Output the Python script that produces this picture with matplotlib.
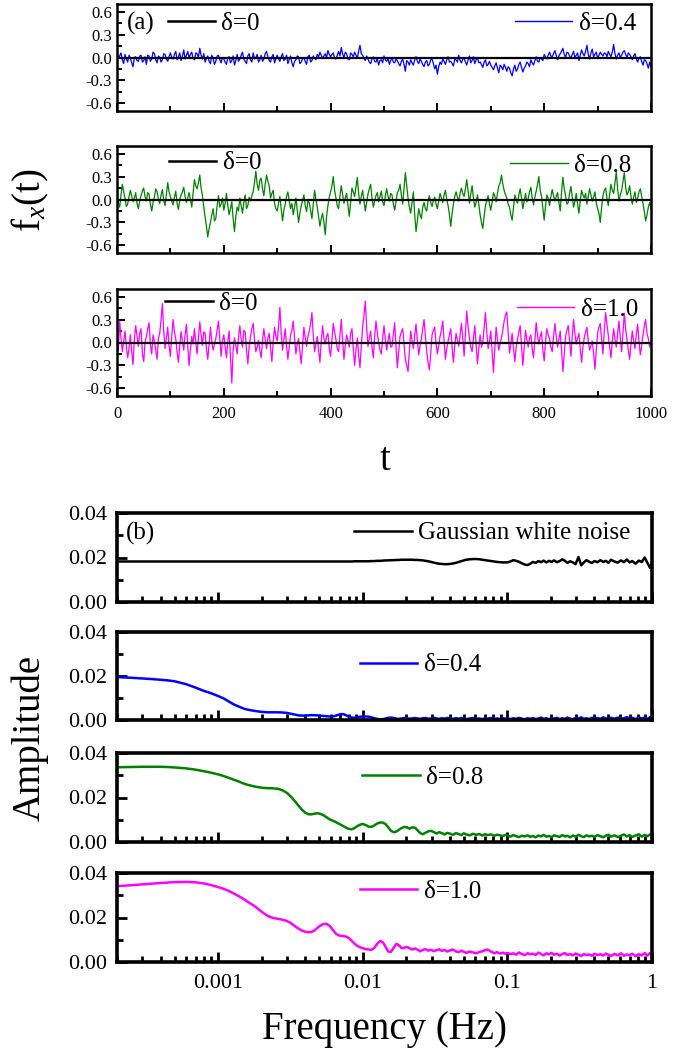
import numpy as np
import matplotlib
matplotlib.use('Agg')
import matplotlib.pyplot as plt
from matplotlib.ticker import MultipleLocator, FixedLocator, FixedFormatter, LogLocator, NullFormatter, FormatStrFormatter
from matplotlib.lines import Line2D
from matplotlib.legend import Legend

plt.rcParams['font.family'] = ['Liberation Serif', 'DejaVu Serif']
plt.rcParams['mathtext.fontset'] = 'custom'
plt.rcParams['mathtext.rm'] = 'Liberation Serif'
plt.rcParams['mathtext.it'] = 'Liberation Serif:italic'
plt.rcParams['axes.unicode_minus'] = False

# ---------------- data: panel (a) time series (sampled every 2.5 time units) ----------------
t_step = 2.5
fx_d04 = [0.10, -0.01, 0.02, 0.06, -0.03, -0.08, 0.04, -0.02, -0.06, 0.03, -0.01, -0.07, -0.12, 0.00, 0.01, -0.04, -0.05, 0.02, 0.03, -0.06, -0.04, 0.01, -0.09, 0.03, 0.02, -0.05, -0.02, 0.07, 0.05, -0.03, -0.07, 0.02, 0.00, -0.06, -0.03, 0.05, 0.04, -0.02, -0.05, 0.01,
          0.06, 0.00, -0.02, 0.04, 0.08, -0.03, 0.01, 0.06, -0.04, 0.02, 0.10, -0.02, 0.03, 0.08, -0.01, 0.04, 0.07, -0.01, -0.03, 0.06, 0.05, 0.00, 0.12, 0.03, -0.02, 0.05, -0.06, -0.01, 0.02, -0.05, -0.08, 0.03, -0.01, -0.09, -0.05, 0.02, 0.03, -0.03, -0.07, 0.00,
          -0.02, -0.06, -0.09, 0.00, 0.01, -0.07, -0.04, 0.02, -0.10, -0.04, 0.04, -0.05, -0.02, 0.03, 0.07, -0.02, -0.05, -0.08, 0.02, 0.05, -0.03, -0.06, 0.06, -0.02, 0.00, 0.04, -0.06, -0.03, 0.03, -0.05, -0.02, 0.05, 0.08, 0.01, -0.04, -0.06, 0.01, 0.04, -0.07, -0.02,
          0.03, -0.02, -0.05, 0.01, 0.05, -0.04, -0.02, 0.03, -0.08, -0.03, 0.02, -0.07, -0.12, -0.05, -0.03, 0.02, 0.01, -0.08, -0.06, -0.02, 0.00, -0.05, -0.09, 0.01, 0.03, -0.06, -0.04, 0.02, -0.01, -0.03, 0.04, 0.01, 0.07, 0.03, -0.01, 0.02, 0.05, 0.00, 0.09, 0.04,
          0.01, 0.04, 0.06, -0.01, -0.02, 0.03, 0.08, 0.02, 0.13, 0.05, 0.00, 0.07, 0.05, -0.02, -0.03, 0.06, 0.04, 0.01, 0.07, 0.03, -0.01, 0.08, 0.16, 0.05, 0.03, -0.01, -0.04, 0.02, -0.02, -0.06, -0.08, -0.02, 0.01, -0.05, -0.06, -0.01, -0.10, -0.04, -0.03, -0.07,
          0.02, -0.03, -0.05, -0.01, -0.09, -0.04, 0.00, -0.06, -0.07, -0.02, -0.04, -0.08, -0.11, -0.05, -0.02, -0.09, -0.18, -0.04, -0.06, -0.10, -0.03, -0.07, -0.10, -0.03, 0.01, -0.05, -0.08, -0.02, -0.05, -0.09, -0.12, -0.06, -0.04, -0.11, -0.09, -0.03, -0.02, -0.08, -0.15, -0.10,
          -0.22, -0.12, -0.06, -0.09, -0.02, -0.05, -0.09, -0.03, 0.01, -0.06, -0.05, -0.08, -0.11, -0.02, -0.03, -0.06, 0.03, -0.04, -0.07, -0.02, -0.01, -0.06, -0.10, -0.03, 0.02, -0.07, -0.04, 0.01, -0.08, -0.03, 0.00, -0.07, -0.06, -0.09, -0.13, -0.06, -0.03, -0.11, -0.09, -0.05,
          -0.10, -0.13, -0.16, -0.11, -0.07, -0.14, -0.20, -0.10, -0.12, -0.16, -0.09, -0.13, -0.18, -0.12, -0.14, -0.20, -0.24, -0.15, -0.10, -0.18, -0.15, -0.09, -0.06, -0.13, -0.19, -0.14, -0.11, -0.06, -0.08, -0.12, -0.03, -0.07, -0.10, -0.04, 0.01, -0.05, -0.06, 0.00, -0.02, -0.04,
          0.04, 0.01, -0.02, 0.03, 0.07, 0.02, 0.01, 0.05, 0.09, 0.03, -0.03, 0.02, 0.05, 0.08, 0.12, 0.04, 0.00, 0.07, 0.06, 0.02, -0.01, 0.04, 0.08, 0.00, 0.03, 0.06, -0.04, 0.03, 0.10, 0.05, 0.02, 0.08, 0.16, 0.04, -0.02, 0.06, 0.11, 0.01, 0.04, 0.07,
          -0.01, 0.03, 0.07, 0.04, 0.02, 0.06, 0.05, 0.01, 0.08, 0.04, 0.01, 0.07, 0.17, 0.05, -0.02, 0.03, 0.06, 0.00, 0.03, 0.07, 0.09, 0.04, 0.00, 0.06, 0.04, 0.01, -0.03, 0.02, 0.05, -0.02, -0.06, -0.01, 0.01, -0.05, -0.10, -0.03, -0.04, -0.08, -0.14, -0.06,
          -0.12]
fx_d08 = [0.08, -0.04, -0.10, 0.06, 0.20, 0.10, 0.02, -0.09, -0.06, 0.04, 0.12, 0.05, -0.03, 0.02, 0.09, -0.05, -0.12, -0.02, 0.05, 0.11, 0.15, 0.04, -0.02, 0.09, 0.07, -0.06, -0.15, -0.04, 0.03, 0.14, 0.10, 0.01, -0.05, 0.06, 0.13, -0.01, -0.08, 0.07, 0.22, 0.10,
          0.04, -0.02, -0.07, 0.03, 0.11, -0.05, -0.13, -0.01, 0.06, 0.10, 0.16, 0.04, -0.04, 0.02, 0.09, 0.00, -0.10, 0.08, 0.26, 0.18, 0.14, 0.22, 0.32, 0.15, 0.05, -0.10, -0.22, -0.35, -0.49, -0.38, -0.30, -0.20, -0.12, -0.28, -0.25, -0.08, 0.05, -0.10, -0.06, 0.02,
          -0.14, -0.05, 0.08, -0.08, -0.20, -0.12, -0.03, -0.25, -0.42, -0.22, -0.10, -0.15, 0.02, -0.08, -0.18, -0.04, 0.06, -0.12, -0.08, 0.03, -0.02, 0.05, 0.10, 0.22, 0.37, 0.20, 0.12, 0.25, 0.28, 0.14, 0.05, 0.20, 0.32, 0.24, 0.18, 0.02, 0.08, 0.12, -0.05, -0.12,
          -0.15, -0.05, 0.04, -0.12, -0.28, -0.14, -0.06, 0.04, 0.10, -0.02, -0.12, -0.05, -0.20, -0.10, 0.02, -0.14, -0.30, -0.18, -0.08, -0.02, 0.06, -0.08, -0.16, -0.02, -0.04, -0.14, -0.25, -0.06, 0.12, 0.00, -0.10, -0.22, -0.35, -0.25, -0.18, -0.30, -0.46, -0.22, -0.08, 0.03,
          0.10, 0.18, 0.30, 0.12, 0.02, -0.08, -0.12, 0.05, 0.18, 0.06, -0.05, 0.02, 0.08, -0.08, -0.22, -0.04, 0.15, 0.10, 0.04, 0.16, 0.29, 0.08, -0.06, 0.04, 0.12, -0.02, -0.15, -0.04, 0.07, 0.14, 0.20, 0.02, -0.10, -0.02, 0.05, 0.09, -0.03, 0.04, 0.11, -0.03,
          -0.08, 0.05, 0.14, 0.04, -0.02, 0.08, 0.06, -0.06, -0.14, -0.02, 0.09, 0.12, 0.20, 0.06, -0.06, 0.15, 0.35, 0.18, 0.02, -0.10, -0.18, -0.04, 0.10, -0.20, -0.42, -0.28, -0.12, -0.20, -0.25, -0.10, -0.04, -0.12, -0.15, -0.02, 0.05, -0.04, -0.09, -0.02, 0.03, -0.06,
          -0.12, -0.02, 0.08, 0.02, -0.04, 0.06, 0.12, 0.00, -0.08, -0.20, -0.35, -0.18, -0.06, 0.04, 0.10, 0.03, -0.02, 0.08, 0.15, 0.08, 0.04, 0.14, 0.26, 0.10, -0.05, 0.08, 0.18, 0.02, -0.10, -0.04, 0.06, -0.06, -0.20, -0.30, -0.38, -0.22, -0.08, -0.02, 0.05, -0.06,
          -0.14, -0.03, 0.09, 0.04, -0.03, 0.08, 0.18, 0.22, 0.32, 0.20, 0.12, 0.06, 0.02, -0.06, -0.10, -0.20, -0.27, -0.10, 0.06, 0.00, -0.05, 0.06, 0.14, 0.02, -0.12, -0.02, 0.08, -0.03, 0.01, 0.10, 0.16, 0.02, -0.07, 0.03, 0.11, 0.20, 0.30, 0.12, 0.04, -0.12,
          -0.27, -0.08, 0.06, 0.02, -0.08, 0.04, 0.13, 0.05, -0.02, 0.04, 0.09, -0.04, -0.15, 0.10, 0.29, 0.14, 0.05, -0.06, -0.04, 0.08, 0.17, 0.04, -0.10, -0.02, 0.08, -0.06, -0.18, -0.02, 0.12, 0.06, 0.02, 0.08, -0.06, 0.04, 0.14, 0.06, -0.02, 0.03, 0.10, -0.04,
          -0.12, -0.18, -0.30, -0.10, 0.05, 0.12, 0.15, 0.02, -0.08, 0.06, 0.20, 0.12, 0.08, 0.22, 0.36, 0.14, -0.02, 0.06, 0.12, 0.24, 0.35, 0.16, 0.06, 0.10, 0.18, 0.04, -0.06, 0.03, 0.10, -0.04, 0.02, 0.10, 0.14, 0.04, -0.05, -0.16, -0.28, -0.20, -0.10, -0.04,
          -0.12]
fx_d10 = [0.05, -0.10, 0.28, 0.06, -0.12, 0.02, 0.15, -0.05, -0.20, -0.08, 0.10, -0.12, -0.29, 0.04, 0.22, 0.08, -0.05, 0.12, 0.18, -0.14, -0.25, 0.00, 0.08, 0.18, 0.26, -0.02, -0.15, 0.10, 0.02, -0.10, -0.22, 0.05, 0.12, 0.30, 0.51, 0.15, -0.08, 0.06, 0.20, -0.04,
          -0.18, 0.08, 0.30, 0.14, 0.05, -0.12, -0.26, -0.04, 0.14, 0.02, -0.10, 0.10, 0.24, -0.05, -0.30, -0.10, 0.08, -0.02, 0.18, 0.02, -0.15, 0.06, 0.27, 0.10, -0.04, 0.14, 0.12, -0.08, -0.22, -0.02, 0.20, 0.00, -0.10, -0.02, 0.05, 0.16, 0.28, 0.04, -0.18, 0.02,
          0.10, -0.06, -0.20, 0.02, 0.15, -0.18, -0.53, -0.10, 0.06, -0.04, -0.15, 0.06, 0.22, 0.05, -0.06, 0.16, 0.14, -0.10, -0.28, -0.05, 0.08, 0.18, 0.25, 0.04, -0.12, -0.06, 0.03, -0.10, -0.20, 0.02, 0.18, 0.04, -0.08, 0.06, 0.12, -0.06, -0.25, 0.00, 0.20, 0.08,
          0.02, 0.20, 0.46, 0.12, -0.10, 0.04, 0.18, -0.04, -0.22, -0.06, 0.10, 0.16, 0.28, 0.06, -0.15, -0.02, 0.05, -0.12, -0.28, -0.04, 0.20, 0.06, -0.05, 0.08, 0.15, 0.24, 0.39, 0.10, -0.12, -0.02, 0.08, -0.10, -0.26, 0.02, 0.22, 0.06, -0.02, 0.08, 0.12, -0.08,
          -0.18, 0.04, 0.25, 0.14, 0.04, -0.08, -0.12, 0.10, 0.30, 0.02, -0.22, -0.04, 0.10, 0.02, -0.06, 0.12, 0.18, -0.08, -0.30, -0.10, 0.06, -0.16, -0.33, -0.04, 0.20, 0.36, 0.54, 0.20, -0.05, 0.06, 0.15, -0.06, -0.20, 0.08, 0.28, 0.12, 0.00, -0.10, -0.15, 0.06,
          0.22, 0.04, -0.10, 0.02, 0.12, -0.06, -0.05, 0.10, 0.26, -0.06, -0.33, -0.12, 0.08, 0.14, 0.18, -0.02, -0.22, -0.30, -0.38, -0.12, 0.15, 0.02, -0.08, 0.10, 0.24, 0.02, -0.16, -0.04, 0.05, 0.18, 0.30, 0.08, -0.12, -0.26, -0.36, -0.14, 0.10, 0.16, 0.20, -0.02,
          -0.15, -0.04, 0.08, 0.16, 0.28, 0.04, -0.22, -0.08, 0.02, 0.10, 0.18, -0.06, -0.26, -0.04, 0.12, 0.02, -0.05, 0.10, 0.25, 0.06, -0.18, 0.12, 0.41, 0.20, 0.06, -0.06, -0.12, 0.06, 0.22, -0.04, -0.28, -0.08, 0.10, -0.06, 0.00, 0.20, 0.39, 0.14, -0.08, 0.02,
          0.15, -0.12, -0.39, -0.08, 0.20, 0.04, -0.10, -0.02, 0.06, 0.16, 0.28, 0.36, 0.40, 0.12, -0.14, -0.02, 0.12, -0.08, -0.25, -0.06, 0.04, 0.14, 0.22, -0.04, -0.30, -0.06, 0.16, 0.04, -0.06, 0.06, 0.10, -0.08, -0.20, 0.04, 0.26, 0.10, -0.02, 0.08, 0.14, -0.10,
          -0.24, 0.02, 0.18, 0.10, 0.05, -0.06, -0.12, 0.08, 0.25, 0.08, -0.06, 0.04, 0.15, -0.10, -0.38, -0.14, 0.08, 0.16, 0.22, 0.02, -0.18, 0.08, 0.30, 0.12, -0.02, 0.06, 0.12, -0.08, -0.26, -0.06, 0.06, 0.14, 0.20, 0.02, -0.10, -0.04, 0.02, -0.14, -0.35, -0.10,
          0.12, 0.20, 0.25, 0.04, -0.15, 0.14, 0.39, 0.24, 0.08, -0.06, -0.20, 0.02, 0.18, 0.04, -0.06, 0.12, 0.28, 0.06, -0.12, 0.14, 0.38, 0.18, 0.04, -0.10, -0.22, -0.02, 0.15, 0.02, -0.08, 0.10, 0.24, 0.02, -0.16, -0.04, 0.10, 0.22, 0.30, 0.12, 0.05, -0.06,
          0.02]
fx_d0_t = [0, 1000]
fx_d0 = [0.0, 0.0]
for arr in (fx_d04, fx_d08, fx_d10):
    assert len(arr) == 401, len(arr)

# ---------------- data: panel (b) amplitude spectra ----------------
freq = [0.0002, 0.00025, 0.0003, 0.00035, 0.0004, 0.00045, 0.0005, 0.0006, 0.0007, 0.0008, 0.0009,
        0.001, 0.0011, 0.0012, 0.0013, 0.0014, 0.0015, 0.0016, 0.0018, 0.002, 0.0022,
        0.0024, 0.0026, 0.0028, 0.003, 0.0032, 0.0034, 0.0036, 0.0038, 0.004, 0.0042,
        0.0044, 0.0046, 0.0048, 0.005, 0.0053, 0.0056, 0.0059, 0.0062, 0.0065, 0.0068,
        0.0071, 0.0074, 0.0077, 0.008, 0.0084, 0.0088, 0.0092, 0.0096,
        0.010, 0.0105, 0.011, 0.0115, 0.012, 0.0126, 0.0132, 0.0138, 0.0144, 0.015,
        0.0157, 0.0164, 0.0171, 0.0178, 0.0186, 0.0194, 0.0202, 0.021, 0.022, 0.023,
        0.024, 0.025, 0.026, 0.0272, 0.0284, 0.0296, 0.031, 0.0324, 0.0338, 0.0352,
        0.0368, 0.0384, 0.04, 0.042, 0.044, 0.046, 0.048, 0.05, 0.052, 0.055,
        0.058, 0.061, 0.064, 0.067, 0.07, 0.073, 0.077, 0.081, 0.085, 0.089,
        0.093, 0.097,
        0.10, 0.105, 0.11, 0.115, 0.12, 0.126, 0.132, 0.138, 0.144, 0.15,
        0.157, 0.164, 0.171, 0.178, 0.186, 0.194, 0.202, 0.21, 0.22, 0.23,
        0.24, 0.25, 0.26, 0.272, 0.284, 0.296, 0.31, 0.324, 0.338, 0.352,
        0.368, 0.384, 0.40, 0.42, 0.44, 0.46, 0.48, 0.50, 0.52, 0.55,
        0.58, 0.61, 0.64, 0.67, 0.70, 0.73, 0.77, 0.81, 0.85, 0.89,
        0.93, 0.97, 1.0]

amp_gauss = [0.0182, 0.0182, 0.0182, 0.0182, 0.0182, 0.0182, 0.0182, 0.0182, 0.0182, 0.0182, 0.0182,
             0.0182, 0.0182, 0.0182, 0.0182, 0.0182, 0.0182, 0.0182, 0.0182, 0.0182, 0.0182,
             0.0182, 0.0182, 0.0182, 0.0182, 0.0182, 0.0182, 0.0182, 0.0182, 0.0182, 0.0182,
             0.0182, 0.0182, 0.0182, 0.0182, 0.0182, 0.0182, 0.0182, 0.0182, 0.0182, 0.0182,
             0.0182, 0.0182, 0.0182, 0.0182, 0.0182, 0.0183, 0.0183, 0.0183,
             0.0183, 0.0183, 0.0183, 0.0184, 0.0184, 0.0185, 0.0185, 0.0186, 0.0187, 0.0187,
             0.0188, 0.0188, 0.0189, 0.0189, 0.0190, 0.0190, 0.0190, 0.0190, 0.0190, 0.0189,
             0.0189, 0.0188, 0.0187, 0.0185, 0.0183, 0.0180, 0.0177, 0.0174, 0.0172, 0.0171,
             0.0170, 0.0170, 0.0171, 0.0173, 0.0176, 0.0180, 0.0184, 0.0187, 0.0190, 0.0192,
             0.0193, 0.0193, 0.0192, 0.0190, 0.0188, 0.0186, 0.0184, 0.0182, 0.0180, 0.0179,
             0.0178, 0.0178,
             0.0178, 0.0182, 0.0188, 0.0185, 0.0181, 0.0174, 0.0168, 0.0166, 0.0172, 0.0180,
             0.0176, 0.0184, 0.0179, 0.0186, 0.0178, 0.0185, 0.0180, 0.0187, 0.0179, 0.0184,
             0.0192, 0.0185, 0.0176, 0.0183, 0.0178, 0.0170, 0.0202, 0.0165, 0.0178, 0.0188,
             0.0181, 0.0175, 0.0184, 0.0179, 0.0188, 0.0180, 0.0185, 0.0176, 0.0190, 0.0182,
             0.0177, 0.0187, 0.0179, 0.0191, 0.0178, 0.0184, 0.0172, 0.0186, 0.0180, 0.0200,
             0.0176, 0.0153, 0.0175]
amp_d04 = [0.0195, 0.0192, 0.0189, 0.0186, 0.0183, 0.0180, 0.0176, 0.0163, 0.0147, 0.0132, 0.0121,
           0.0109, 0.0097, 0.0082, 0.0069, 0.0060, 0.0052, 0.0047, 0.0041, 0.0037, 0.0035,
           0.0035, 0.0035, 0.0034, 0.0032, 0.0028, 0.0024, 0.0021, 0.0020, 0.0020, 0.0021,
           0.0022, 0.0022, 0.0021, 0.0020, 0.0019, 0.0017, 0.0016, 0.0016, 0.0019, 0.0024,
           0.0027, 0.0026, 0.0021, 0.0015, 0.0011, 0.0010, 0.0012, 0.0015,
           0.0016, 0.0016, 0.0015, 0.0012, 0.0008, 0.0005, 0.0003, 0.0004, 0.0007, 0.0010,
           0.0011, 0.0009, 0.0006, 0.0005, 0.0007, 0.0009, 0.0008, 0.0006, 0.0007, 0.0009,
           0.0007, 0.0005, 0.0008, 0.0009, 0.0006, 0.0007, 0.0010, 0.0007, 0.0005, 0.0008,
           0.0006, 0.0009, 0.0007, 0.0005, 0.0008, 0.0006, 0.0009, 0.0006, 0.0004, 0.0007,
           0.0009, 0.0005, 0.0007, 0.0004, 0.0008, 0.0006, 0.0009, 0.0005, 0.0007, 0.0004,
           0.0008, 0.0006,
           0.0009, 0.0004, 0.0008, 0.0005, 0.0010, 0.0006, 0.0003, 0.0008, 0.0005, 0.0009,
           0.0004, 0.0007, 0.0011, 0.0005, 0.0008, 0.0003, 0.0009, 0.0006, 0.0010, 0.0004,
           0.0008, 0.0005, 0.0011, 0.0006, 0.0004, 0.0009, 0.0007, 0.0012, 0.0005, 0.0008,
           0.0004, 0.0010, 0.0006, 0.0009, 0.0005, 0.0012, 0.0007, 0.0004, 0.0010, 0.0006,
           0.0011, 0.0005, 0.0008, 0.0013, 0.0006, 0.0010, 0.0004, 0.0012, 0.0007, 0.0011,
           0.0005, 0.0013, 0.0009]
amp_d08 = [0.0336, 0.0337, 0.0338, 0.0338, 0.0338, 0.0337, 0.0335, 0.0331, 0.0325, 0.0318, 0.0311,
           0.0304, 0.0296, 0.0287, 0.0279, 0.0271, 0.0263, 0.0257, 0.0249, 0.0244, 0.0242,
           0.0241, 0.0239, 0.0232, 0.0220, 0.0203, 0.0183, 0.0163, 0.0145, 0.0132, 0.0125,
           0.0124, 0.0127, 0.0129, 0.0128, 0.0122, 0.0112, 0.0102, 0.0096, 0.0090, 0.0083,
           0.0076, 0.0070, 0.0064, 0.0059, 0.0057, 0.0063, 0.0072, 0.0078,
           0.0081, 0.0076, 0.0069, 0.0068, 0.0074, 0.0083, 0.0088, 0.0087, 0.0080, 0.0066,
           0.0050, 0.0044, 0.0047, 0.0055, 0.0063, 0.0068, 0.0066, 0.0060, 0.0066, 0.0064,
           0.0052, 0.0040, 0.0035, 0.0042, 0.0048, 0.0050, 0.0045, 0.0038, 0.0044, 0.0040,
           0.0034, 0.0041, 0.0038, 0.0032, 0.0040, 0.0036, 0.0031, 0.0039, 0.0034, 0.0030,
           0.0037, 0.0032, 0.0036, 0.0029, 0.0035, 0.0031, 0.0034, 0.0028, 0.0033, 0.0030,
           0.0027, 0.0032,
           0.0029, 0.0024, 0.0031, 0.0026, 0.0022, 0.0028, 0.0025, 0.0030, 0.0023, 0.0027,
           0.0021, 0.0029, 0.0025, 0.0032, 0.0024, 0.0027, 0.0022, 0.0030, 0.0026, 0.0023,
           0.0031, 0.0025, 0.0028, 0.0021, 0.0029, 0.0024, 0.0032, 0.0026, 0.0022, 0.0030,
           0.0025, 0.0028, 0.0023, 0.0031, 0.0026, 0.0021, 0.0029, 0.0033, 0.0024, 0.0030,
           0.0022, 0.0028, 0.0034, 0.0025, 0.0031, 0.0023, 0.0029, 0.0035, 0.0024, 0.0032,
           0.0026, 0.0034, 0.0027]
amp_d10 = [0.0341, 0.0345, 0.0349, 0.0352, 0.0355, 0.0357, 0.0359, 0.0360, 0.0358, 0.0353, 0.0345,
           0.0337, 0.0328, 0.0318, 0.0306, 0.0295, 0.0283, 0.0271, 0.0250, 0.0226, 0.0207,
           0.0198, 0.0194, 0.0190, 0.0184, 0.0174, 0.0161, 0.0150, 0.0141, 0.0136, 0.0134,
           0.0135, 0.0140, 0.0150, 0.0160, 0.0170, 0.0172, 0.0163, 0.0145, 0.0128, 0.0120,
           0.0117, 0.0116, 0.0114, 0.0108, 0.0095, 0.0082, 0.0072, 0.0066,
           0.0062, 0.0058, 0.0056, 0.0055, 0.0063, 0.0082, 0.0094, 0.0088, 0.0068, 0.0047,
           0.0046, 0.0065, 0.0082, 0.0075, 0.0062, 0.0064, 0.0068, 0.0062, 0.0056, 0.0061,
           0.0055, 0.0048, 0.0054, 0.0058, 0.0051, 0.0055, 0.0049, 0.0053, 0.0057, 0.0050,
           0.0054, 0.0047, 0.0052, 0.0056, 0.0048, 0.0044, 0.0051, 0.0046, 0.0041, 0.0047,
           0.0043, 0.0039, 0.0045, 0.0048, 0.0053, 0.0056, 0.0047, 0.0040, 0.0044, 0.0038,
           0.0042, 0.0037,
           0.0041, 0.0035, 0.0039, 0.0033, 0.0043, 0.0036, 0.0031, 0.0040, 0.0034, 0.0038,
           0.0032, 0.0042, 0.0036, 0.0030, 0.0039, 0.0034, 0.0041, 0.0033, 0.0037, 0.0029,
           0.0036, 0.0040, 0.0032, 0.0035, 0.0030, 0.0038, 0.0033, 0.0027, 0.0036, 0.0031,
           0.0034, 0.0028, 0.0037, 0.0031, 0.0035, 0.0029, 0.0038, 0.0032, 0.0027, 0.0036,
           0.0030, 0.0039, 0.0028, 0.0034, 0.0031, 0.0037, 0.0026, 0.0035, 0.0030, 0.0040,
           0.0029, 0.0041, 0.0033]

for name, arr in [('g', amp_gauss), ('4', amp_d04), ('8', amp_d08), ('10', amp_d10)]:
    assert len(arr) == len(freq), (name, len(arr), len(freq))

ts_labels = ['\u03b4=0.4', '\u03b4=0.8', '\u03b4=1.0']
spec_labels = ['Gaussian white noise', '\u03b4=0.4', '\u03b4=0.8', '\u03b4=1.0']
colors = ['#0000FF', '#008000', '#FF00FF']

# ---------------- layout ----------------
W, H = 695, 1053
fig = plt.figure(figsize=(W / 100, H / 100), dpi=100)


def px_axes(left, top, right, bottom):
    return fig.add_axes([left / W, 1 - bottom / H, (right - left) / W, (bottom - top) / H])


def add_leg(ax, color, label, x, y, lw, hl, fs=18):
    h = Line2D([], [], color=color, lw=lw)
    leg = Legend(ax, [h], [label], loc='center left', bbox_to_anchor=(x, y),
                 frameon=False, fontsize=fs, handlelength=hl, handletextpad=0.25,
                 borderpad=0, borderaxespad=0)
    ax.add_artist(leg)


# panel (a)
a_boxes = [(117, 4, 651, 111), (117, 146, 651, 253), (117, 289, 651, 396)]
a_series = [fx_d04, fx_d08, fx_d10]
a_black_leg = [(0.095, 0.82), (0.097, 0.84), (0.090, 0.865)]
a_col_leg = [(0.745, 0.82), (0.736, 0.82), (0.749, 0.81)]
for i, box in enumerate(a_boxes):
    ax = px_axes(*box)
    vals = a_series[i]
    t = np.arange(len(vals)) * t_step
    ax.plot(t, vals, color=colors[i], lw=0.9)
    ax.plot(fx_d0_t, fx_d0, color='black', lw=1.6)
    ax.set_xlim(0, 1000)
    ax.set_ylim(-0.7, 0.7)
    ax.xaxis.set_major_locator(MultipleLocator(200))
    ax.xaxis.set_minor_locator(MultipleLocator(100))
    ax.yaxis.set_major_locator(FixedLocator([-0.6, -0.3, 0.0, 0.3, 0.6]))
    ax.yaxis.set_minor_locator(FixedLocator([-0.45, -0.15, 0.15, 0.45]))
    ax.yaxis.set_major_formatter(FormatStrFormatter('%.1f'))
    ax.tick_params(which='both', direction='in', top=False, right=False, width=1.4)
    ax.tick_params(which='major', length=6, labelsize=12)
    ax.tick_params(which='minor', length=3.5)
    ax.tick_params(axis='x', pad=7)
    for s in ax.spines.values():
        s.set_linewidth(1.8)
    if i < 2:
        ax.set_xticklabels([])
    add_leg(ax, 'black', '\u03b4=0', a_black_leg[i][0], a_black_leg[i][1], 1.8, 1.9)
    add_leg(ax, colors[i], ts_labels[i], a_col_leg[i][0], a_col_leg[i][1], 1.0, 2.3)
    if i == 0:
        ax.text(0.018, 0.82, '(a)', transform=ax.transAxes, fontsize=18, va='center', ha='left')

# panel (b)
b_boxes = [(117, 513, 652, 602), (117, 632, 652, 720), (117, 753, 652, 842), (117, 873, 652, 962)]
b_series = [amp_gauss, amp_d04, amp_d08, amp_d10]
b_colors = ['black'] + colors
b_leg = [(0.443, 0.775), (0.454, 0.625), (0.458, 0.72), (0.454, 0.787)]
for i, box in enumerate(b_boxes):
    ax = px_axes(*box)
    ax.plot(freq, b_series[i], color=b_colors[i], lw=1.8)
    ax.set_xscale('log')
    ax.set_xlim(2e-4, 1.0)
    ax.set_ylim(0, 0.04)
    ax.xaxis.set_major_locator(FixedLocator([1e-3, 1e-2, 1e-1, 1.0]))
    ax.xaxis.set_major_formatter(FixedFormatter(['0.001', '0.01', '0.1', '1']))
    ax.xaxis.set_minor_locator(LogLocator(base=10, subs=np.arange(2, 10), numticks=20))
    ax.xaxis.set_minor_formatter(NullFormatter())
    ax.yaxis.set_major_locator(MultipleLocator(0.02))
    ax.yaxis.set_minor_locator(MultipleLocator(0.01))
    ax.yaxis.set_major_formatter(FormatStrFormatter('%.2f'))
    ax.tick_params(which='both', direction='in', top=False, right=False, width=2.0)
    ax.tick_params(which='major', length=7, labelsize=16)
    ax.tick_params(which='minor', length=4)
    ax.tick_params(axis='y', pad=7)
    ax.tick_params(axis='x', pad=9)
    for s in ax.spines.values():
        s.set_linewidth(2.6)
    if i < 3:
        ax.set_xticklabels([])
    add_leg(ax, b_colors[i], spec_labels[i], b_leg[i][0], b_leg[i][1], 1.8, 2.3)
    if i == 0:
        ax.text(0.017, 0.775, '(b)', transform=ax.transAxes, fontsize=18, va='center', ha='left')

# axis titles
fig.text(30 / W, 1 - 200 / H, r'f$_{x}$(t)', rotation=90, ha='center', va='center', fontsize=28)
fig.text(385 / W, 1 - 460 / H, 't', ha='center', va='center', fontsize=28)
fig.text(30 / W, 1 - 738 / H, 'Amplitude', rotation=90, ha='center', va='center', fontsize=28)
fig.text(385 / W, 1 - 1030 / H, 'Frequency (Hz)', ha='center', va='center', fontsize=28)

fig.savefig('out.png', dpi=100)
